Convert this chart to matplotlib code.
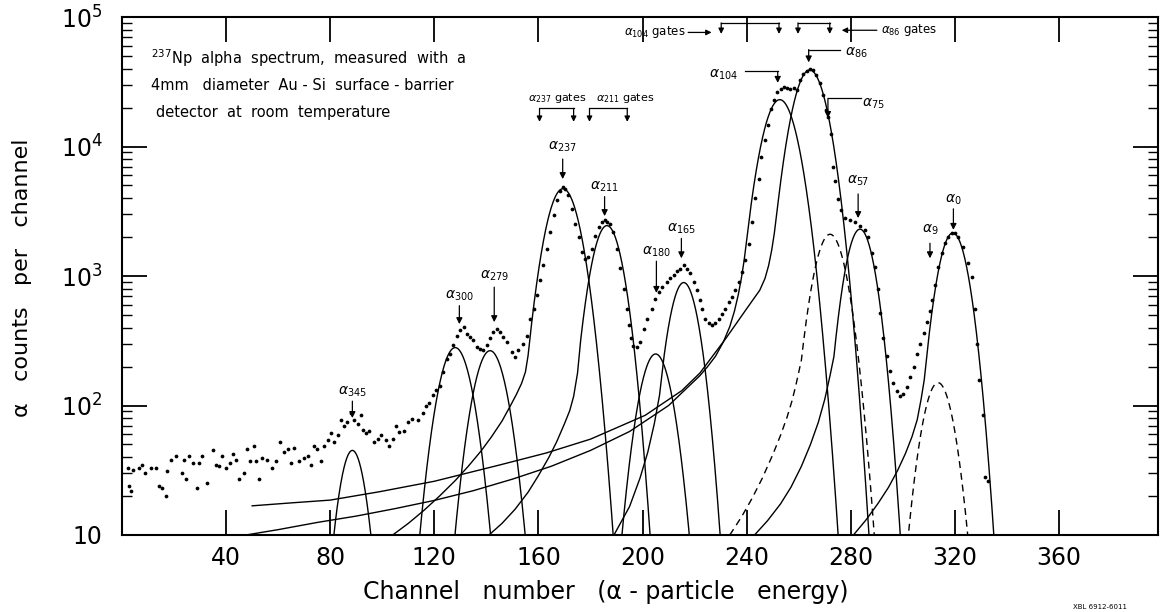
import numpy as np
import matplotlib
matplotlib.use('Agg')
import matplotlib.pyplot as plt
from matplotlib.ticker import FixedLocator, FixedFormatter, NullLocator, LogLocator

plt.rcParams['font.family'] = ['DejaVu Sans']
plt.rcParams['mathtext.fontset'] = 'dejavusans'

# measured spectrum (channel, counts per channel)
spec_channel = [
    2.4, 2.8, 3.5, 4.2, 6.5, 7.8, 9.0, 11.0, 13.0, 14.2,
    15.2, 16.8, 17.4, 18.7, 20.6, 23.0, 23.8, 24.5, 25.8, 27.1,
    29.0, 29.6, 30.9, 32.8, 34.8, 36.0, 37.3, 38.6, 39.9, 41.3,
    42.6, 43.8, 45.0, 46.9, 47.9, 49.2, 50.8, 51.5, 52.6, 53.9,
    55.8, 57.7, 59.0, 60.7, 62.3, 63.9, 64.9, 66.2, 68.1, 70.0,
    71.3, 72.6, 73.8, 75.1, 76.4, 77.7, 79.0, 80.3, 81.5, 82.8,
    84.1, 85.4, 86.6, 88.0, 89.2, 90.5, 91.8, 92.4, 93.7, 95.0,
    96.9, 98.2, 99.5, 101.4, 102.7, 104.0, 105.2, 106.5, 108.4, 109.7,
    111.6, 113.6, 115.5, 116.8, 118.0, 119.4, 120.6, 122.0, 123.5, 124.7,
    126.0, 127.3, 128.8, 129.9, 131.2, 132.4, 133.7, 135.0, 136.3, 137.6,
    138.8, 140.1, 141.4, 142.7, 144.0, 145.3, 146.5, 147.8, 149.7, 151.0,
    152.3, 154.2, 155.5, 156.8, 158.1, 159.4, 160.6, 161.9, 163.2, 164.5,
    165.8, 167.1, 168.3, 169.4, 170.3, 171.5, 172.8, 174.1, 175.4, 176.7,
    178.0, 179.2, 180.5, 181.8, 183.1, 184.4, 185.5, 186.3, 187.6, 188.8,
    190.1, 191.4, 192.7, 194.0, 194.8, 195.6, 196.5, 197.8, 199.1, 200.4,
    201.7, 203.6, 204.9, 206.2, 207.4, 209.4, 210.6, 211.9, 213.2, 214.5,
    215.8, 217.1, 218.3, 219.6, 220.9, 222.2, 223.0, 224.1, 225.4, 226.7,
    227.9, 229.2, 230.5, 231.8, 233.1, 234.4, 235.6, 236.9, 238.2, 239.5,
    240.8, 242.1, 243.3, 244.6, 245.6, 246.9, 248.2, 249.5, 250.4, 251.7,
    253.0, 254.3, 255.5, 256.8, 258.1, 259.4, 260.4, 261.7, 263.0, 264.2,
    265.5, 266.8, 268.1, 269.2, 270.4, 271.3, 272.3, 273.2, 274.0, 275.0,
    276.4, 277.7, 279.6, 281.5, 283.5, 285.4, 286.7, 288.0, 289.2, 290.3,
    291.2, 292.5, 293.8, 295.0, 296.3, 297.6, 298.9, 300.2, 301.5, 302.8,
    304.1, 305.4, 306.7, 308.0, 309.3, 310.3, 311.0, 312.3, 313.6, 314.9,
    316.2, 317.5, 318.8, 320.0, 321.3, 323.2, 325.1, 326.4, 327.6, 328.5,
    329.2, 330.6, 331.7, 332.5,
]
spec_counts = [
    33, 24, 22, 32, 33, 35, 30, 33, 33, 24,
    23, 20, 31, 38, 41, 30, 38, 27, 41, 36,
    23, 36, 41, 25, 45, 35, 34, 41, 33, 36,
    42, 38, 27, 30, 46, 37, 49, 37, 27, 39,
    38, 33, 37, 52, 44, 46, 36, 47, 37, 39,
    41, 35, 49, 46, 37, 49, 54, 61, 52, 59,
    77, 70, 74, 87, 77, 72, 84, 65, 61, 64,
    52, 55, 59, 54, 49, 55, 70, 62, 64, 74,
    78, 77, 87, 100, 105, 120, 132, 142, 181, 230,
    251, 292, 347, 381, 404, 357, 336, 318, 283, 275,
    267, 292, 330, 370, 392, 370, 336, 309, 259, 236,
    267, 300, 347, 468, 560, 710, 930, 1210, 1630, 2190,
    2950, 3830, 4560, 4880, 4720, 4200, 3300, 2530, 2000, 1540,
    1360, 1400, 1630, 2050, 2400, 2620, 2700, 2620, 2530, 2190,
    1620, 1150, 800, 560, 418, 330, 290, 283, 309, 392,
    468, 560, 665, 750, 825, 900, 960, 1010, 1100, 1140,
    1210, 1140, 1050, 900, 775, 650, 560, 468, 430, 418,
    430, 468, 510, 560, 630, 690, 775, 900, 1070, 1320,
    1780, 2620, 3970, 5650, 8300, 11200, 14700, 19600, 22700, 26500,
    28000, 29000, 28500, 28000, 28500, 27500, 32400, 36300, 38300, 39700,
    38800, 35500, 30700, 25000, 19000, 17000, 12600, 6900, 5400, 3900,
    3250, 2800, 2700, 2630, 2450, 2270, 2000, 1500, 1180, 800,
    520, 330, 240, 185, 150, 130, 118, 122, 138, 165,
    200, 250, 300, 360, 440, 540, 650, 850, 1180, 1500,
    1790, 1990, 2140, 2140, 2000, 1680, 1260, 990, 560, 300,
    158, 84, 28, 26,
]

# fitted peak components (gaussian bodies)
peak_names = ['345', '300', '279', '237', '211', '180', '165', '104', '86', '75', '57', '9', '0']
peak_center = [88.5, 128.0, 141.4, 169.4, 186.3, 205.0, 215.8, 252.7, 264.2, 272.0, 283.5, 313.5, 319.2]
peak_height = [45, 280, 265, 4720, 2450, 250, 890, 23000, 39000, 2100, 2300, 150, 2150]
peak_sigma = [4.1, 5.27, 5.27, 5.5, 5.0, 5.1, 4.67, 5.7, 5.6, 5.2, 4.7, 4.9, 4.8]
dashed_peaks = ['75', '9']

# low-energy tails of the fitted components
tail_237_ch = [104, 110, 116, 122, 128, 133, 138, 142, 146, 149, 151.5, 153.5, 155, 156]
tail_237_n = [10, 12.3, 15.5, 20, 26.3, 33.9, 44.7, 57.5, 75.9, 97.7, 121.6, 148, 182, 243]
tail_211_ch = [141, 146, 151, 156, 160, 164, 167, 170, 172, 173.5, 175, 176]
tail_211_n = [10, 12.3, 15.8, 21.4, 28.8, 39.8, 52.5, 72.4, 91.2, 117.5, 178, 293]
tail_165_ch = [189, 195, 199, 202, 204.5, 206.5, 208]
tail_165_n = [10, 16.6, 27.5, 43.7, 72.4, 120, 220]
tail_104_ch = [47.6, 60, 75, 90, 105, 120, 135, 150, 165, 180, 195, 210, 222,
               225, 228, 231, 233.5, 235.3, 236.8, 238, 239, 239.8]
tail_104_n = [10, 11, 12.5, 14, 16, 18.5, 22, 27, 34, 45, 63, 100, 170,
              200, 240, 309, 407, 537, 724, 977, 1318, 1778]
tail_86_ch = [50, 65, 80, 99, 120, 145, 163, 180, 201, 215, 222, 232, 240,
              245, 247, 248.4, 249.6, 250.6, 251.5]
tail_86_n = [16.8, 17.7, 18.6, 21.6, 26, 34.7, 43, 55, 84, 130, 178, 330, 560,
             776, 955, 1202, 1585, 2138, 2979]
tail_75_ch = [233.5, 238, 242, 246, 250, 253, 255.5, 257.3, 258.8, 260, 261]
tail_75_n = [10, 13.8, 19.1, 27.5, 41.7, 58.9, 81.3, 107, 141, 182, 224]
tail_57_ch = [243, 248, 253, 257, 261, 264.5, 267.5, 270, 272, 273.5]
tail_57_n = [10, 12.9, 17.4, 23.4, 33.9, 50.1, 74.1, 112, 170, 239]
tail_0_ch = [281, 286, 290.5, 294.5, 298, 301, 303.5, 305.5, 307, 308.2, 309]
tail_0_n = [10, 13.2, 17.6, 23.4, 31.6, 42.7, 57.5, 77.6, 112, 158, 224]

tails = {
    '237': (tail_237_ch, tail_237_n), '211': (tail_211_ch, tail_211_n),
    '165': (tail_165_ch, tail_165_n), '104': (tail_104_ch, tail_104_n),
    '86': (tail_86_ch, tail_86_n), '75': (tail_75_ch, tail_75_n),
    '57': (tail_57_ch, tail_57_n), '0': (tail_0_ch, tail_0_n),
}

# peak labels with vertical arrows: label position, arrow start/end counts
label_names = ['345', '300', '279', '237', '211', '180', '165', '57', '9', '0']
label_ch = [88.5, 129.6, 143.0, 169.3, 185.4, 205.3, 214.9, 282.8, 310.4, 319.4]
label_n = [128, 700, 1000, 10000, 4900, 1550, 2300, 5400, 2270, 3880]
arrow_from = [108, 590, 820, 8000, 4100, 1300, 1950, 4300, 1790, 3300]
arrow_to = [80, 425, 440, 5600, 2900, 740, 1370, 2800, 1370, 2270]

x_ticks = [40, 80, 120, 160, 200, 240, 280, 320, 360]
y_ticks = [10, 100, 1000, 10000, 100000]
y_tick_labels = ['10', r'$10^{2}$', r'$10^{3}$', r'$10^{4}$', r'$10^{5}$']


def gauss(x, c, a, s):
    return a * np.exp(-(x - c) ** 2 / (2 * s * s))


def down_arrow(ax, ch, y0, y1, ms=9):
    ax.annotate('', xy=(ch, y1), xytext=(ch, y0),
                arrowprops=dict(arrowstyle='-|>', color='k', lw=0.9,
                                mutation_scale=ms, shrinkA=0, shrinkB=0))


def gate(ax, c0, c1, ytop, ybot):
    ax.plot([c0, c1], [ytop, ytop], color='k', lw=0.9)
    down_arrow(ax, c0, ytop, ybot, ms=8)
    down_arrow(ax, c1, ytop, ybot, ms=8)


fig = plt.figure(figsize=(11.6, 6.12), dpi=100)
ax = fig.add_axes([122 / 1160, 77 / 612, 1036 / 1160, 518 / 612])
ax.set_yscale('log')
ax.set_xlim(0, 398)
ax.set_ylim(10, 1e5)

# fitted components
for name, c, a, s in zip(peak_names, peak_center, peak_height, peak_sigma):
    ls = (0, (5, 3.5)) if name in dashed_peaks else '-'
    if name in tails:
        tx, ty = tails[name]
        x = np.linspace(tx[-1], c + 5 * s, 300)[1:]
        xs = np.concatenate([tx, x])
        ys = np.concatenate([ty, gauss(x, c, a, s)])
    else:
        xs = np.linspace(c - 5 * s, c + 5 * s, 300)
        ys = gauss(xs, c, a, s)
    ax.plot(xs, ys, color='k', lw=1.0, ls=ls)

# data points
ax.plot(spec_channel, spec_counts, 'o', color='k', ms=2.7, mec='none')

# peak labels
for name, lc, ln, a0, a1 in zip(label_names, label_ch, label_n, arrow_from, arrow_to):
    ax.text(lc, ln, r'$\alpha_{%s}$' % name, fontsize=10, ha='center', va='center')
    down_arrow(ax, lc, a0, a1)

# elbow labels for the big doublet
ax.text(231.2, 35500, r'$\alpha_{104}$', fontsize=10, ha='center', va='center')
ax.plot([239.2, 251.9], [38000, 38000], color='k', lw=0.9)
down_arrow(ax, 251.9, 38000, 31000)
ax.text(282.0, 52500, r'$\alpha_{86}$', fontsize=10, ha='center', va='center')
ax.plot([263.8, 276.0], [56000, 56000], color='k', lw=0.9)
down_arrow(ax, 263.8, 56000, 44600)
ax.text(288.5, 21400, r'$\alpha_{75}$', fontsize=10, ha='center', va='center')
ax.plot([271.2, 284.0], [23500, 23500], color='k', lw=0.9)
down_arrow(ax, 271.2, 23500, 16600)

# gates
gate(ax, 160.4, 173.5, 19700, 15500)
ax.text(167.0, 23600, r'$\alpha_{237}$ gates', fontsize=8, ha='center', va='center')
gate(ax, 179.6, 194.1, 19700, 15500)
ax.text(193.5, 23600, r'$\alpha_{211}$ gates', fontsize=8, ha='center', va='center')
gate(ax, 230.2, 252.4, 90000, 74000)
gate(ax, 259.7, 271.9, 90000, 74000)
ax.text(216.5, 76000, r'$\alpha_{104}$ gates', fontsize=8.5, ha='right', va='center')
ax.annotate('', xy=(226.5, 76000), xytext=(217.5, 76000),
            arrowprops=dict(arrowstyle='-|>', color='k', lw=0.9,
                            mutation_scale=8, shrinkA=0, shrinkB=0))
ax.annotate('', xy=(276.5, 79000), xytext=(290.0, 79000),
            arrowprops=dict(arrowstyle='-|>', color='k', lw=0.9,
                            mutation_scale=8, shrinkA=0, shrinkB=0))
ax.text(291.5, 79000, r'$\alpha_{86}$ gates', fontsize=8.5, ha='left', va='center')

# description
ax.text(11.2, 48000, r'$^{237}$Np  alpha  spectrum,  measured  with  a', fontsize=10.5, ha='left', va='center')
ax.text(11.2, 29500, '4mm   diameter  Au - Si  surface - barrier', fontsize=10.5, ha='left', va='center')
ax.text(13.0, 18300, 'detector  at  room  temperature', fontsize=10.5, ha='left', va='center')

# axes styling
for sp in ax.spines.values():
    sp.set_linewidth(1.5)
ax.xaxis.set_major_locator(FixedLocator(x_ticks))
ax.xaxis.set_minor_locator(NullLocator())
ax.yaxis.set_major_locator(FixedLocator(y_ticks))
ax.yaxis.set_major_formatter(FixedFormatter(y_tick_labels))
ax.yaxis.set_minor_locator(LogLocator(base=10, subs=np.arange(2, 10)))
ax.yaxis.set_minor_formatter(plt.NullFormatter())
ax.tick_params(axis='x', which='major', direction='in', length=18, width=1.3,
               top=True, labelsize=17, pad=8)
ax.tick_params(axis='y', which='major', direction='in', length=18, width=1.3,
               right=True, labelsize=17, pad=14)
ax.tick_params(axis='y', which='minor', direction='in', length=7, width=1.0, right=True)

fig.text(606 / 1160, 1 - 592 / 612, 'Channel   number   (α - particle   energy)',
         fontsize=17, ha='center', va='center')
fig.text(22 / 1160, 1 - 278 / 612, 'α   counts   per   channel', fontsize=16,
         ha='center', va='center', rotation=90)
fig.text(1100 / 1160, 1 - 607 / 612, 'XBL 6912-6011', fontsize=5, ha='center', va='center')

fig.savefig('out.png', dpi=100)
